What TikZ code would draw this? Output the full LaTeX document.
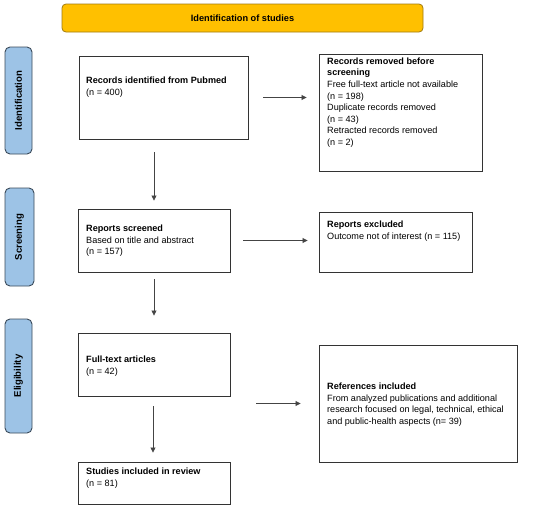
\documentclass[tikz,border=0pt]{standalone}
\usepackage{fontspec}
\setmainfont{Liberation Sans}
\usetikzlibrary{arrows.meta}
\definecolor{gold}{HTML}{FFC000}
\definecolor{goldline}{HTML}{A07A10}
\definecolor{sideblue}{HTML}{9DC3E6}
\definecolor{sideline}{HTML}{3A4A5A}
\definecolor{boxline}{HTML}{333333}
\definecolor{arrline}{HTML}{444444}
\begin{document}
\begin{tikzpicture}[x=1pt,y=-1pt,
  box/.style={draw=boxline,line width=0.9pt,rectangle,inner sep=0pt},
  side/.style={draw=sideline,fill=sideblue,line width=0.9pt,rounded corners=5pt,inner sep=0pt},
  banner/.style={draw=goldline,fill=gold,line width=0.8pt,rounded corners=4pt,inner sep=0pt},
  txt/.style={anchor=north west,align=left,inner sep=0pt,font=\fontsize{9.1}{11.6}\selectfont},
  sidetxt/.style={rotate=90,font=\bfseries\fontsize{9.6}{11}\selectfont},
  arr/.style={draw=arrline,line width=0.8pt,-{Triangle[length=5pt,width=5pt]}}]
\useasboundingbox (0,0) rectangle (550,509);
% banner
\node[banner,minimum width=361pt,minimum height=28pt] (ban) at (242.5,18) {};
\node[font=\bfseries\fontsize{9.2}{11}\selectfont] (banT) at (ban.center) {Identification of studies};
% side labels
\node[side,minimum width=27pt,minimum height=107pt] (sid) at (18.5,100.5) {};
\node[sidetxt] (sidT) at (sid.center) {Identification};
\node[side,minimum width=29pt,minimum height=98pt] (sscr) at (19.5,237) {};
\node[sidetxt] (sscrT) at (sscr.center) {Screening};
\node[side,minimum width=27pt,minimum height=114pt] (sel) at (18.5,376) {};
\node[sidetxt] (selT) at (sel.center) {Eligibility};
% boxes
\node[box,minimum width=169pt,minimum height=83pt] (a) at (163.5,97.5) {};
\node[box,minimum width=163pt,minimum height=117pt] (b) at (400.5,112.5) {};
\node[box,minimum width=152pt,minimum height=63pt] (c) at (154,240.5) {};
\node[box,minimum width=153pt,minimum height=60pt] (d) at (395.5,242) {};
\node[box,minimum width=152pt,minimum height=63pt] (e) at (154,364.5) {};
\node[box,minimum width=198pt,minimum height=117pt] (f) at (418,403.5) {};
\node[box,minimum width=152pt,minimum height=42pt] (g) at (154,483) {};
% texts
\node[txt] (aT) at (86,77) {\textbf{Records identified from Pubmed}\\(n = 400)};
\node[txt] (bT) at (327,57.5) {\textbf{Records removed before}\\\textbf{screening}\\Free full-text article not available\\(n = 198)\\Duplicate records removed\\(n = 43)\\Retracted records removed\\(n = 2)};
\node[txt] (cT) at (86,225) {\textbf{Reports screened}\\Based on title and abstract\\(n = 157)};
\node[txt] (dT) at (327,221) {\textbf{Reports excluded}\\Outcome not of interest (n = 115)};
\node[txt] (eT) at (86,356) {\textbf{Full-text articles}\\(n = 42)};
\node[txt] (fT) at (327,383) {\textbf{References included}\\From analyzed publications and additional\\research focused on legal, technical, ethical\\and public-health aspects (n= 39)};
\node[txt] (gT) at (86,468) {\textbf{Studies included in review}\\(n = 81)};
% arrows
\draw[arr,shorten <=15pt,shorten >=12pt] (a.east) -- (a.east -| b.west);
\draw[arr,shorten <=13pt,shorten >=8pt] (a.south -| c.north) -- (c.north);
\draw[arr,shorten <=13pt,shorten >=11pt] (c.east) -- (c.east -| d.west);
\draw[arr,shorten <=7pt,shorten >=17pt] (c.south) -- (e.north);
\draw[arr,shorten <=26pt,shorten >=18pt] (f.west -| e.east) -- (f.west);
\draw[arr,shorten <=10pt,shorten >=9pt] ([xshift=-1pt]e.south) -- ([xshift=-1pt]g.north);
\end{tikzpicture}
\end{document}
